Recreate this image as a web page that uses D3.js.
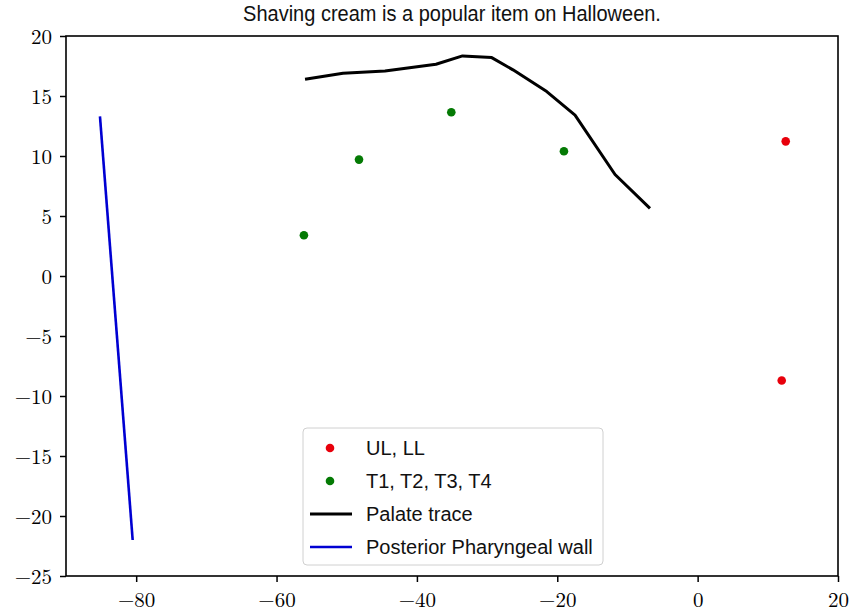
<!DOCTYPE html>
<html>
<head>
<meta charset="utf-8">
<script src="https://cdn.jsdelivr.net/npm/d3@7"></script>
<style>
  html, body { margin: 0; padding: 0; background: #fff; }
  svg { display: block; }
  .tick text { font-family: "Latin Modern Math", "DejaVu Serif", "Liberation Serif", serif; }
</style>
</head>
<body>
<script>
// Lip markers (upper / lower lip)
const lipX = [12.55, 11.98];
const lipY = [11.22, -8.71];

// Tongue markers T1..T4
const tongueX = [-56.1, -48.25, -35.1, -19.05];
const tongueY = [3.39, 9.70, 13.65, 10.39];

// Palate trace
const palateX = [-55.94, -50.53, -44.55, -37.28, -33.5, -29.34, -26.31, -21.5, -17.47, -11.77, -6.79];
const palateY = [16.40, 16.89, 17.08, 17.65, 18.34, 18.20, 17.18, 15.37, 13.40, 8.46, 5.63];

// Posterior pharyngeal wall
const wallX = [-85.16, -80.5];
const wallY = [13.30, -22.0];

// Axis ticks
const xTicks = [-80, -60, -40, -20, 0, 20];
const yTicks = [-25, -20, -15, -10, -5, 0, 5, 10, 15, 20];

const legendLabels = ["UL, LL", "T1, T2, T3, T4", "Palate trace", "Posterior Pharyngeal wall"];
const titleText = "Shaving cream is a popular item on Halloween.";

const W = 859, H = 612;
const m = { left: 66, right: 21, top: 36, bottom: 36 };

const svg = d3.select("body").append("svg").attr("width", W).attr("height", H);

const x = d3.scaleLinear().domain([-90, 20]).range([m.left, W - m.right]);
const y = d3.scaleLinear().domain([-25, 20]).range([H - m.bottom, m.top]);

const fmt = d => (d < 0 ? "\u2212" + Math.abs(d) : String(d));

// Title (slightly tall lettering)
svg.append("text")
  .attr("transform", `translate(${(x.range()[0] + x.range()[1]) / 2},21) scale(1,1.1)`)
  .attr("text-anchor", "middle")
  .style("font-family", "'Liberation Sans', Arial, sans-serif")
  .style("font-size", "20px")
  .attr("fill", "#111")
  .text(titleText);

const plot = svg.append("g");

// Pharyngeal wall
plot.append("path")
  .datum(d3.zip(wallX, wallY))
  .attr("fill", "none")
  .attr("stroke", "#0000d2")
  .attr("stroke-width", 2.6)
  .attr("d", d3.line().x(d => x(d[0])).y(d => y(d[1])));

// Palate
plot.append("path")
  .datum(d3.zip(palateX, palateY))
  .attr("fill", "none")
  .attr("stroke", "#000")
  .attr("stroke-width", 3)
  .attr("stroke-linejoin", "round")
  .attr("d", d3.line().x(d => x(d[0])).y(d => y(d[1])));

// Lip points
plot.selectAll("circle.lip")
  .data(d3.zip(lipX, lipY))
  .join("circle")
  .attr("class", "lip")
  .attr("cx", d => x(d[0])).attr("cy", d => y(d[1]))
  .attr("r", 4.3).attr("fill", "#e8000b");

// Tongue points
plot.selectAll("circle.tongue")
  .data(d3.zip(tongueX, tongueY))
  .join("circle")
  .attr("class", "tongue")
  .attr("cx", d => x(d[0])).attr("cy", d => y(d[1]))
  .attr("r", 4.3).attr("fill", "#047a04");

// Axes
const xAxis = svg.append("g")
  .attr("transform", `translate(0,${H - m.bottom})`)
  .call(d3.axisBottom(x).tickValues(xTicks).tickFormat(fmt).tickSize(6).tickPadding(10));
const yAxis = svg.append("g")
  .attr("transform", `translate(${m.left},0)`)
  .call(d3.axisLeft(y).tickValues(yTicks).tickFormat(fmt).tickSize(6).tickPadding(8));

[xAxis, yAxis].forEach(g => {
  g.select(".domain").remove();
  g.selectAll(".tick line").attr("stroke", "#000").attr("stroke-width", 1.5);
  g.selectAll(".tick text").attr("fill", "#000").style("font-size", "21px");
});
yAxis.selectAll(".tick text").attr("dy", "0.35em");

// Frame
svg.append("rect")
  .attr("x", x.range()[0]).attr("y", y.range()[1])
  .attr("width", x.range()[1] - x.range()[0])
  .attr("height", y.range()[0] - y.range()[1])
  .attr("fill", "none").attr("stroke", "#000").attr("stroke-width", 1.6);

// Legend
const lg = svg.append("g").attr("transform", "translate(303,428)");
lg.append("rect")
  .attr("width", 300).attr("height", 137)
  .attr("rx", 4)
  .attr("fill", "#fff").attr("fill-opacity", 0.85)
  .attr("stroke", "#d0d0d0").attr("stroke-width", 1);

const rowY = i => 20 + i * 33;
const legendMarks = [
  { type: "dot", color: "#e8000b" },
  { type: "dot", color: "#047a04" },
  { type: "line", color: "#000", w: 3 },
  { type: "line", color: "#0000d2", w: 2.6 }
];
legendMarks.forEach((mk, i) => {
  if (mk.type === "dot") {
    lg.append("circle").attr("cx", 27).attr("cy", rowY(i)).attr("r", 4.3).attr("fill", mk.color);
  } else {
    lg.append("line").attr("x1", 7).attr("x2", 49).attr("y1", rowY(i)).attr("y2", rowY(i))
      .attr("stroke", mk.color).attr("stroke-width", mk.w);
  }
  lg.append("text")
    .attr("x", 63).attr("y", rowY(i)).attr("dy", "0.35em")
    .style("font-family", "'Liberation Sans', Arial, sans-serif")
    .style("font-size", "20px")
    .attr("fill", "#111")
    .text(legendLabels[i]);
});
</script>
</body>
</html>
